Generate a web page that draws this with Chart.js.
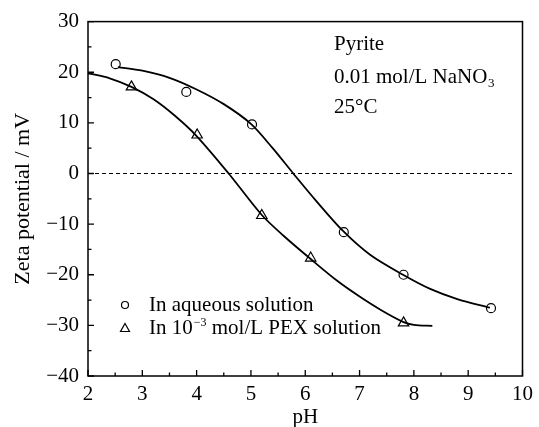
<!DOCTYPE html>
<html>
<head>
<meta charset="utf-8">
<script src="https://cdn.jsdelivr.net/npm/chart.js@4.4.1/dist/chart.umd.min.js"></script>
<style>
  html, body { margin: 0; padding: 0; background: #fff; }
  canvas { display: block; }
</style>
</head>
<body>
<canvas id="zeta" width="539" height="427"></canvas>
<script>
// measured points
const circleX = [2.51, 3.81, 5.02, 6.71, 7.81, 9.42]
const circleY = [21.6, 16.1, 9.7, -11.6, -20.0, -26.6]
const triangleX = [2.8, 4.01, 5.2, 6.1, 7.81]
const triangleY = [17.1, 7.6, -8.3, -16.7, -29.5]

// fitted curves
const circleFitX = [2.55, 3.0, 3.5, 4.0, 4.5, 5.0, 5.4, 5.78, 6.2, 6.7, 7.2, 7.8, 8.3, 8.8, 9.4]
const circleFitY = [21.0, 20.3, 18.9, 16.6, 13.7, 9.8, 5.0, 0, -5.4, -11.4, -16.1, -20.0, -22.8, -24.8, -26.5]
const triangleFitX = [2.0, 2.4, 2.8, 3.2, 3.6, 4.0, 4.59, 5.2, 5.6, 6.1, 6.6, 7.0, 7.4, 7.8, 8.0, 8.34]
const triangleFitY = [19.8, 18.8, 17.1, 14.7, 11.4, 7.4, 0, -8.2, -12.3, -16.9, -21.3, -24.3, -27.0, -29.3, -29.9, -30.1]

const zeroLineX = [2, 9.85]
const zeroLineY = [0, 0]

const xTicks = ["2", "3", "4", "5", "6", "7", "8", "9", "10"]
const yTicks = ["\u221240", "\u221230", "\u221220", "\u221210", "0", "10", "20", "30"]

const notes = ["Pyrite", "0.01 mol/L NaNO", "25\u00b0C"]
const legendLabels = ["In aqueous solution", "In 10", "\u22123", " mol/L PEX solution"]

const serif = "'Liberation Serif', 'Times New Roman', serif"

function pts(xs, ys) {
  return xs.map((x, i) => ({ x: x, y: ys[i] }))
}

// inward tick marks + frame
const framePlugin = {
  id: "frame",
  afterDraw(chart) {
    const ctx = chart.ctx
    const a = chart.chartArea
    const xs = chart.scales.x
    const ys = chart.scales.y
    ctx.save()
    ctx.strokeStyle = "#000"
    ctx.lineWidth = 1.5
    ctx.strokeRect(a.left, a.top, a.right - a.left, a.bottom - a.top)
    ctx.lineWidth = 1.3
    ctx.beginPath()
    for (let v = ys.min; v <= ys.max; v += 5) {
      const p = ys.getPixelForValue(v)
      const len = v % 10 === 0 ? 6 : 3.5
      ctx.moveTo(a.left, p)
      ctx.lineTo(a.left + len, p)
    }
    for (let v = xs.min; v <= xs.max; v += 0.5) {
      const p = xs.getPixelForValue(v)
      const len = v % 1 === 0 ? 6 : 3.5
      ctx.moveTo(p, a.bottom)
      ctx.lineTo(p, a.bottom - len)
    }
    ctx.stroke()

    // notes
    ctx.fillStyle = "#000"
    ctx.textAlign = "left"
    ctx.textBaseline = "alphabetic"
    ctx.font = "21px " + serif
    ctx.fillText(notes[0], 334, 50)
    ctx.fillText(notes[1], 334, 83)
    let w = ctx.measureText(notes[1]).width
    ctx.font = "13px " + serif
    ctx.fillText("3", 334 + w + 0.5, 87)
    ctx.font = "21px " + serif
    ctx.fillText(notes[2], 334, 113)

    // legend
    ctx.lineWidth = 1.2
    ctx.beginPath()
    ctx.arc(125, 305, 3.5, 0, Math.PI * 2)
    ctx.stroke()
    ctx.beginPath()
    ctx.moveTo(125, 323.5)
    ctx.lineTo(129.5, 331.5)
    ctx.lineTo(120.5, 331.5)
    ctx.closePath()
    ctx.stroke()
    ctx.fillText(legendLabels[0], 149, 311)
    ctx.fillText(legendLabels[1], 149, 334)
    w = ctx.measureText(legendLabels[1]).width
    ctx.font = "12px " + serif
    ctx.fillText(legendLabels[2], 149 + w + 1, 326)
    const w2 = ctx.measureText(legendLabels[2]).width
    ctx.font = "21px " + serif
    ctx.fillText(legendLabels[3], 149 + w + 1 + w2, 334)
    ctx.restore()
  },
}

new Chart(document.getElementById("zeta"), {
  type: "scatter",
  data: {
    datasets: [
      {
        data: pts(zeroLineX, zeroLineY),
        showLine: true,
        borderColor: "#000",
        borderWidth: 1.2,
        borderDash: [4, 3],
        pointRadius: 0,
      },
      {
        data: pts(circleFitX, circleFitY),
        showLine: true,
        borderColor: "#000",
        borderWidth: 1.8,
        tension: 0.3,
        pointRadius: 0,
      },
      {
        data: pts(triangleFitX, triangleFitY),
        showLine: true,
        borderColor: "#000",
        borderWidth: 1.8,
        tension: 0.3,
        pointRadius: 0,
      },
      {
        data: pts(circleX, circleY),
        pointStyle: "circle",
        pointRadius: 4.5,
        pointBorderWidth: 1.2,
        pointBorderColor: "#000",
        pointBackgroundColor: "rgba(0,0,0,0)",
      },
      {
        data: pts(triangleX, triangleY),
        pointStyle: "triangle",
        pointRadius: 6,
        pointBorderWidth: 1.2,
        pointBorderColor: "#000",
        pointBackgroundColor: "rgba(0,0,0,0)",
      },
    ],
  },
  options: {
    responsive: false,
    animation: false,
    layout: { padding: { left: 0, right: 13, top: 19, bottom: 0 } },
    plugins: {
      legend: { display: false },
      tooltip: { enabled: false },
    },
    scales: {
      x: {
        type: "linear",
        min: 2,
        max: 10,
        grid: { display: false, drawTicks: false },
        border: { display: false },
        afterFit: (s) => { s.height = 51 },
        ticks: {
          stepSize: 1,
          padding: 6,
          color: "#000",
          font: { family: serif, size: 21 },
          callback: (v) => xTicks[Math.round(v) - 2],
        },
        title: {
          display: true,
          text: "pH",
          color: "#000",
          font: { family: serif, size: 21 },
          padding: { top: 0, bottom: -3 },
        },
      },
      y: {
        min: -40,
        max: 30,
        grid: { display: false, drawTicks: false },
        border: { display: false },
        afterFit: (s) => { s.width = 88 },
        ticks: {
          stepSize: 10,
          padding: 9,
          color: "#000",
          font: { family: serif, size: 21 },
          callback: (v) => yTicks[Math.round((v + 40) / 10)],
        },
        title: {
          display: true,
          text: "Zeta potential / mV",
          color: "#000",
          font: { family: serif, size: 22 },
          padding: { top: 10, bottom: 0 },
        },
      },
    },
  },
  plugins: [framePlugin],
})
</script>
</body>
</html>
